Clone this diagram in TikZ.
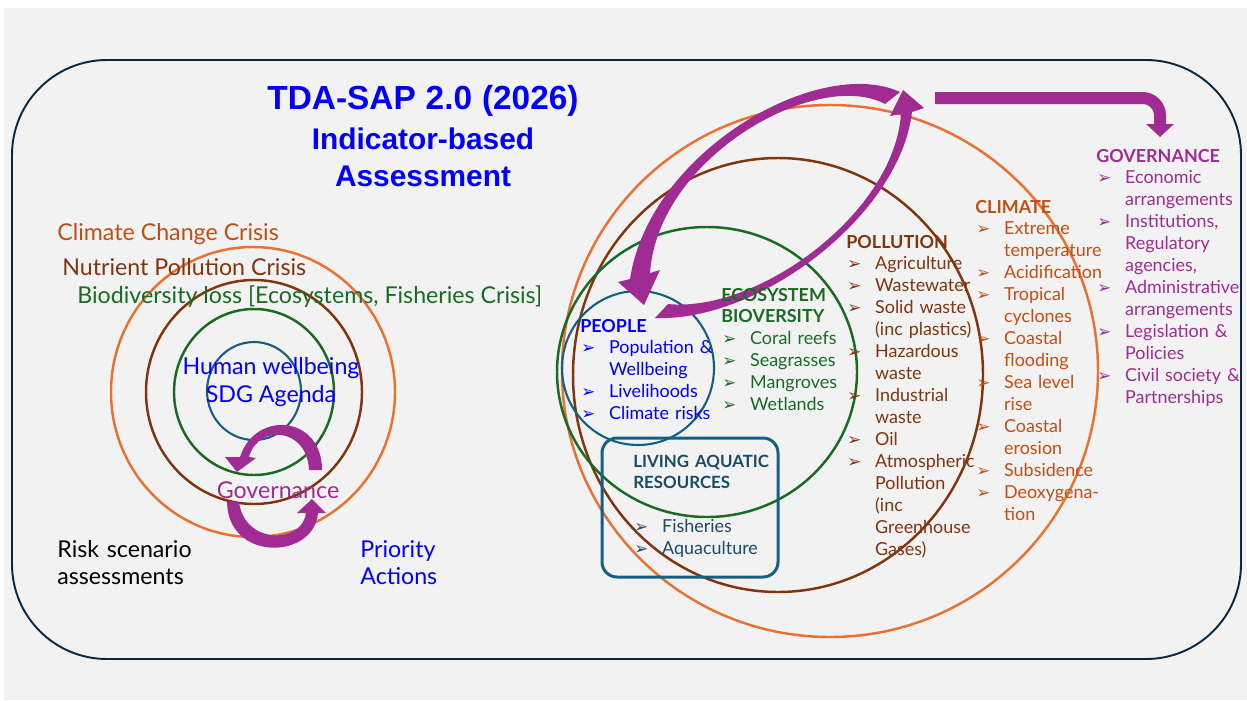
\documentclass[tikz,border=0pt]{standalone}
\usepackage{fontspec}
\setmainfont{Lato}
\newfontfamily\titlefont{Liberation Sans}
\newfontfamily\bulfont{DejaVu Sans}
\usetikzlibrary{arrows.meta}

\definecolor{bgc}{HTML}{F2F2F2}
\definecolor{framec}{HTML}{0E2841}
\definecolor{orng}{HTML}{E97132}
\definecolor{orngtxt}{HTML}{C04F15}
\definecolor{brwn}{HTML}{80350E}
\definecolor{grn}{HTML}{196B24}
\definecolor{larc}{HTML}{156082}
\definecolor{lartxt}{HTML}{1B4B66}
\definecolor{purp}{HTML}{A02B93}
\definecolor{bluetxt}{HTML}{0000FF}

\newcommand\bul{\makebox[16.4pt][l]{\hspace{0.6pt}{\bulfont\fontsize{9.5}{9.5}\selectfont ➢}}}
\newcommand\cont{\hspace*{16.4pt}}
\newcommand\lstfont{\fontsize{10.2}{12.5}\selectfont}
\newcommand\bigfont{\fontsize{13.2}{15.9}\selectfont}

\begin{document}
\begin{tikzpicture}[
    x=0.02cm, y=-0.02cm,
    ring/.style={line width=1.4pt},
    grp/.style={inner sep=0, anchor=base west, text width=4.2cm, align=left, font=\lstfont},
    lbl/.style={inner sep=0, anchor=base west, font=\bigfont},
]
    \useasboundingbox (0,0) rectangle (1247,700);
    \fill[white] (0,0) rectangle (1247,700);
    \fill[bgc] (4,8) rectangle (1247,700);
    \draw[framec, line width=1.1pt, rounded corners=1.9cm] (12,60) rectangle (1241,659);

    % left rings
    \draw[ring, orng] (253,392) ellipse [x radius=142, y radius=145];
    \draw[ring, brwn] (254,392) ellipse [x radius=108, y radius=112];
    \draw[ring, grn] (254,392) ellipse [x radius=80, y radius=83];
    \draw[line width=1.2pt, larc] (254,391) ellipse [x radius=47, y radius=49];

    % right rings
    \draw[ring, orng] (830,371) ellipse [x radius=268, y radius=266];
    \draw[ring, brwn] (778,375) ellipse [x radius=205, y radius=217];
    \draw[ring, grn] (707,372) ellipse [x radius=150, y radius=145];
    \draw[line width=1.2pt, larc] (638,368) ellipse [x radius=76, y radius=77];
    \draw[larc, line width=1.7pt, rounded corners=0.3cm] (602,438) rectangle (778,577);

    % purple arrows
    \fill[purp] (322,470) .. controls (322,415) and (255,410) .. (240,457) -- (225,457) -- (237,472) -- (256,458) -- (249,457) .. controls (258,424) and (307,427) .. (309,470) -- cycle;
    \fill[purp] (227,502) .. controls (228,562) and (314,560) .. (318,513) -- (326,513) -- (312,499) -- (297,513) -- (306,513) .. controls (303,543) and (245,546) .. (239,502) -- cycle;
    \fill[purp] (900,92) .. controls (820,55) and (650,150) .. (630,279) -- (618,282) -- (644,305) -- (660,270) -- (650,273) .. controls (658,156) and (818,68) .. (885,104) -- cycle;
    \fill[purp] (655,318) .. controls (760,322) and (900,215) .. (912,112) -- (924,108) -- (903,90) -- (890,116) -- (901,114) .. controls (894,214) and (757,313) .. (668,304) -- cycle;
    \draw[purp, line width=0.24cm, rounded corners=0.35cm, -{Triangle[width=0.54cm, length=0.26cm]}] (935,98) -- (1160,98) -- (1160,137);

    % title
    \node[inner sep=0, anchor=base, text width=8cm, align=center, text=bluetxt, font=\titlefont\bfseries\fontsize{17}{21.5}\selectfont] (title) at (423,109)
        {{\fontsize{19}{19}\selectfont TDA-SAP 2.0 (2026)}\\[1.3pt]Indicator-based\\Assessment};

    % left side
    \node[lbl, text=orngtxt] (ccc) at (57,240) {Climate Change Crisis};
    \node[lbl, text=brwn] (npc) at (62,275) {Nutrient Pollution Crisis};
    \node[lbl, text=grn] (blc) at (77,303) {Biodiversity loss [Ecosystems, Fisheries Crisis]};
    \node[inner sep=0, align=center, font=\bigfont, text=bluetxt] (hw) at (271,382) {Human wellbeing\\SDG Agenda};
    \node[inner sep=0, font=\bigfont, text=purp] (govl) at (278,490) {Governance};
    \node[lbl, text width=3cm, align=left] (risk) at (57,557) {Risk scenario\\assessments};
    \node[lbl, text width=3cm, align=left, text=bluetxt] (prio) at (360,557) {Priority\\Actions};

    % right side groups
    \node[grp, text=bluetxt] (people) at (580,332) {{\bfseries PEOPLE}\\
        \bul Population \&\\\cont Wellbeing\\\bul Livelihoods\\\bul Climate risks};
    \node[grp, text=grn] (eco) at (721,301) {{\bfseries ECOSYSTEM\\BIOVERSITY}\\
        \bul Coral reefs\\\bul Seagrasses\\\bul Mangroves\\\bul Wetlands};
    \node[grp, text=lartxt] (lar) at (633,467) {{\bfseries\fontsize{9.6}{12.5}\selectfont LIVING AQUATIC\\RESOURCES}\\[12.5pt]
        \bul Fisheries\\\bul Aquaculture};
    \node[grp, text=brwn] (poll) at (846,248) {{\bfseries POLLUTION}\\
        \bul Agriculture\\\bul Wastewater\\\bul Solid waste\\\cont (inc plastics)\\
        \bul Hazardous\\\cont waste\\\bul Industrial\\\cont waste\\\bul Oil\\
        \bul Atmospheric\\\cont Pollution\\\cont (inc\\\cont Greenhouse\\\cont Gases)};
    \node[grp, text=orngtxt] (clim) at (975,213) {{\bfseries CLIMATE}\\
        \bul Extreme\\\cont temperature\\\bul Acidification\\\bul Tropical\\\cont cyclones\\
        \bul Coastal\\\cont flooding\\\bul Sea level\\\cont rise\\\bul Coastal\\\cont erosion\\
        \bul Subsidence\\\bul Deoxygena-\\\cont tion};
    \node[grp, text=purp] (gov) at (1096,162) {{\bfseries GOVERNANCE}\\
        \bul Economic\\\cont arrangements\\\bul Institutions,\\\cont Regulatory\\\cont agencies,\\
        \bul Administrative\\\cont arrangements\\\bul Legislation \&\\\cont Policies\\
        \bul Civil society \&\\\cont Partnerships};
\end{tikzpicture}
\end{document}
